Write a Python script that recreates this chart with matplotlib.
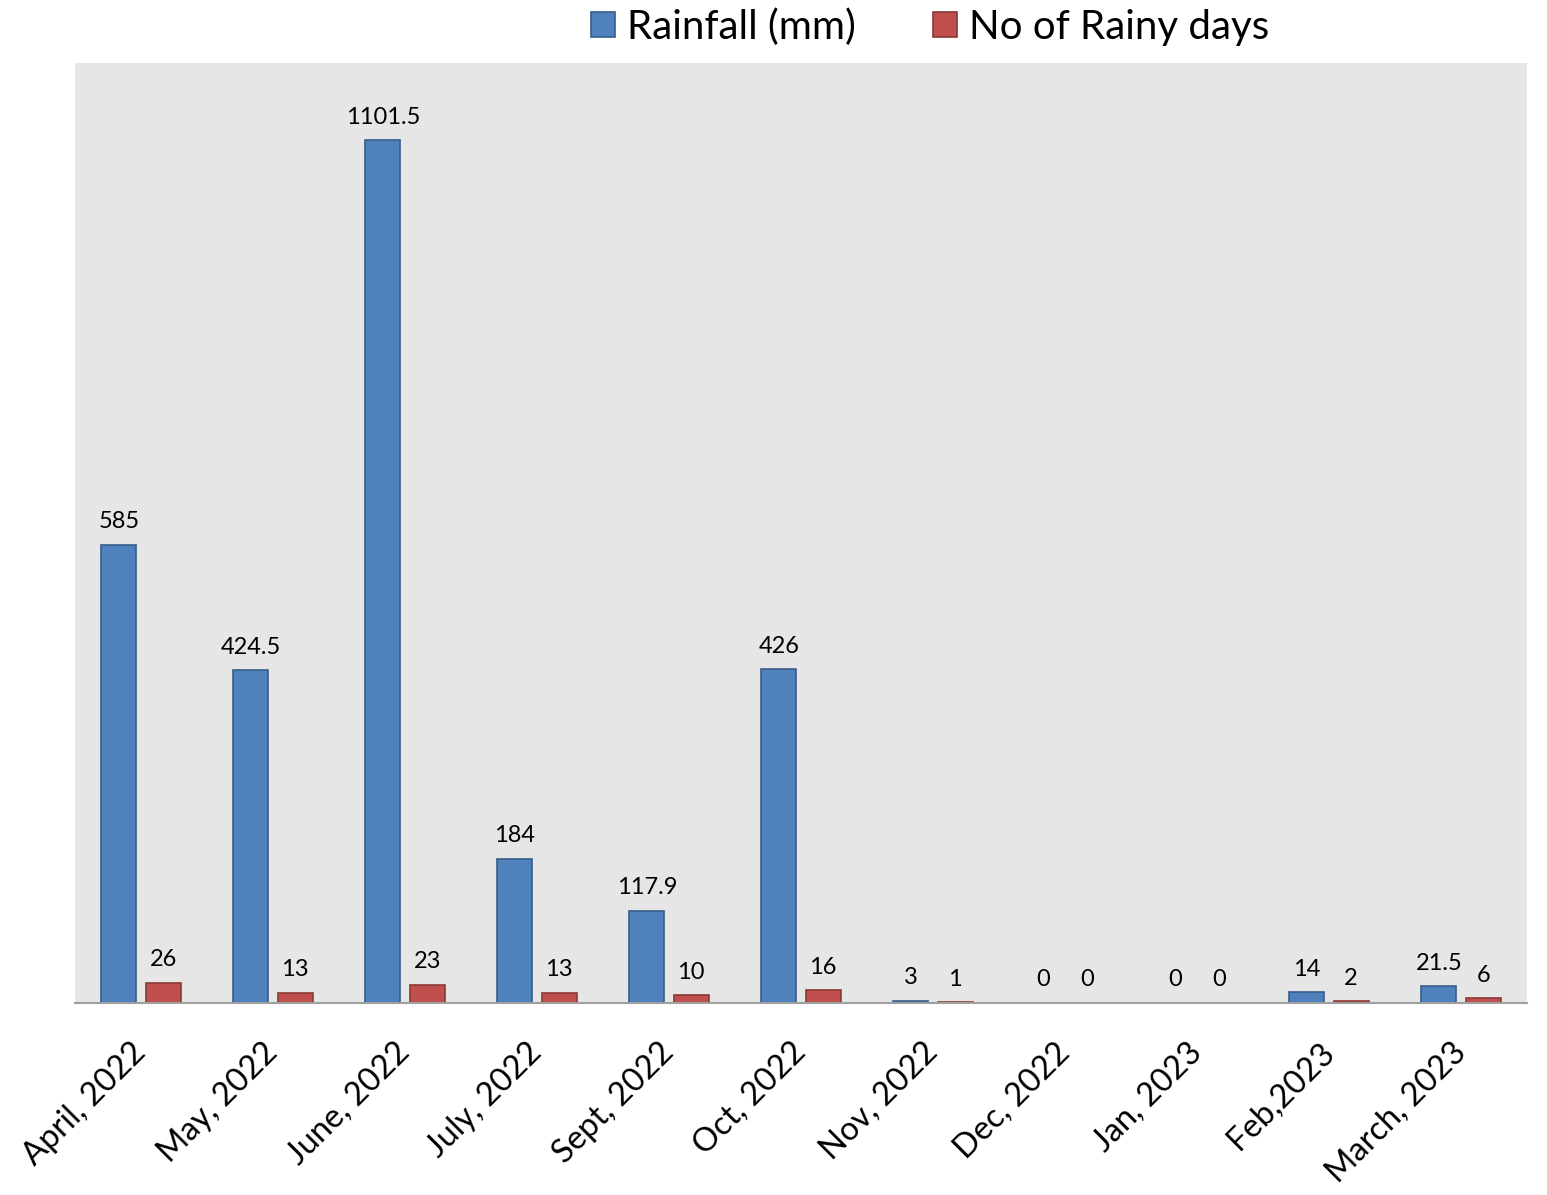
import matplotlib
matplotlib.use("Agg")
import matplotlib.pyplot as plt
import numpy as np

months = ["April, 2022", "May, 2022", "June, 2022", "July, 2022", "Sept, 2022",
          "Oct, 2022", "Nov, 2022", "Dec, 2022", "Jan, 2023", "Feb,2023", "March, 2023"]
rainfall = [585, 424.5, 1101.5, 184, 117.9, 426, 3, 0, 0, 14, 21.5]
rainy_days = [26, 13, 23, 13, 10, 16, 1, 0, 0, 2, 6]

plt.rcParams['font.family'] = ['Lato', 'DejaVu Sans']

fig = plt.figure(figsize=(15.47, 11.95), dpi=100)
ax = fig.add_axes([75/1547, 1 - 1003/1195, 1452/1547, 940/1195])
ax.set_facecolor("#E6E6E6")

x = np.arange(len(months))
w = 0.265
off = 0.168
b1 = ax.bar(x - off, rainfall, w, color="#4F81BD", edgecolor="#385D8A",
            linewidth=1.2, label="Rainfall (mm)")
b2 = ax.bar(x + off, rainy_days, w, color="#C0504D", edgecolor="#8C3836",
            linewidth=1.2, label="No of Rainy days")

def fmt(v):
    return f"{v:g}"

for bars, vals in ((b1, rainfall), (b2, rainy_days)):
    for rect, v in zip(bars, vals):
        ax.annotate(fmt(v), (rect.get_x() + rect.get_width() / 2, v),
                    xytext=(0, 9), textcoords="offset points",
                    ha="center", va="bottom", fontsize=17, color="black")

ax.set_xlim(-0.5, len(months) - 0.5)
ax.set_ylim(0, 1200)
ax.set_yticks([])
ax.set_xticks(x)
ax.set_xticklabels(months, rotation=45, ha="right", va="center",
                   rotation_mode="anchor", fontsize=23.5)
ax.tick_params(axis="x", length=0, pad=32)
for side in ("left", "right", "top"):
    ax.spines[side].set_visible(False)
ax.spines["bottom"].set_color("#A0A0A0")
ax.spines["bottom"].set_linewidth(1.5)

fig.legend(loc="center", bbox_to_anchor=(930/1547, 1 - 27/1195), ncol=2,
           frameon=False, fontsize=29, handlelength=0.6, handleheight=0.6,
           handletextpad=0.3, columnspacing=1.9)

fig.savefig("out.png", dpi=100)
